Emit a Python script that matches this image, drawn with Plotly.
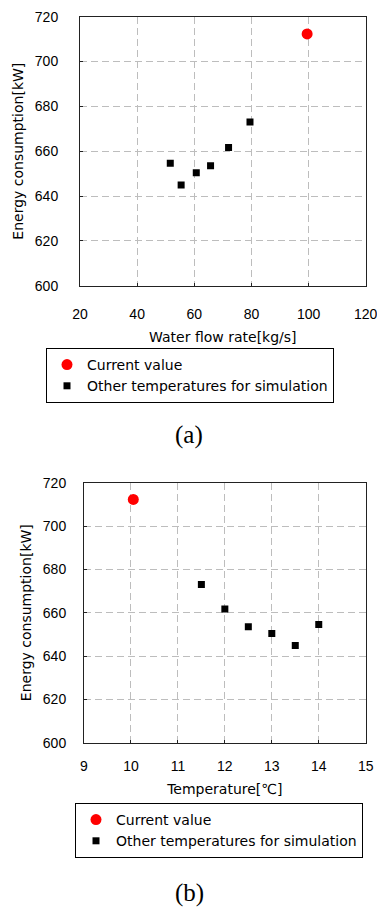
import plotly.graph_objects as go

# ---- data ----
flow_current = [99.5]
energy_current_a = [712.3]
flow_other = [51.6, 55.4, 60.7, 65.7, 72.0, 79.5]
energy_other_a = [654.6, 644.9, 650.4, 653.5, 661.7, 673.0]

temp_current = [10.05]
energy_current_b = [712.3]
temp_other = [11.5, 12.0, 12.5, 13.0, 13.5, 14.0]
energy_other_b = [673.0, 661.7, 653.5, 650.4, 644.9, 654.6]

y_ticks = [600, 620, 640, 660, 680, 700, 720]
x_ticks_a = [20, 40, 60, 80, 100, 120]
x_ticks_b = [9, 10, 11, 12, 13, 14, 15]

W, H = 377, 908
TICKFONT = "Liberation Sans, Arial, sans-serif"
TEXTFONT = "DejaVu Sans, Verdana, sans-serif"
SERIF = "Liberation Serif, Times New Roman, serif"

def px_x(p):
    return p / W

def px_y(p):
    return 1 - p / H

fig = go.Figure()

fig.add_trace(go.Scatter(x=flow_current, y=energy_current_a, mode="markers",
                         name="Current value", legend="legend",
                         marker=dict(color="#ff0000", size=11, symbol="circle"),
                         xaxis="x", yaxis="y"))
fig.add_trace(go.Scatter(x=flow_other, y=energy_other_a, mode="markers",
                         name="Other temperatures for simulation", legend="legend",
                         marker=dict(color="#000000", size=7, symbol="square"),
                         xaxis="x", yaxis="y"))
fig.add_trace(go.Scatter(x=temp_current, y=energy_current_b, mode="markers",
                         name="Current value", legend="legend2",
                         marker=dict(color="#ff0000", size=11, symbol="circle"),
                         xaxis="x2", yaxis="y2"))
fig.add_trace(go.Scatter(x=temp_other, y=energy_other_b, mode="markers",
                         name="Other temperatures for simulation", legend="legend2",
                         marker=dict(color="#000000", size=7, symbol="square"),
                         xaxis="x2", yaxis="y2"))

axis_common = dict(showline=True, mirror=True, linecolor="#222222", linewidth=1,
                   showgrid=True, gridcolor="#bdbdbd", gridwidth=1, griddash="7px,4px",
                   zeroline=False, ticks="inside", ticklen=3, tickcolor="#222222",
                   ticklabeloverflow="allow",
                   tickfont=dict(family=TICKFONT, size=14, color="black"),
                   automargin=False)

title_font = dict(family=TEXTFONT, size=14, color="black")

fig.update_layout(
    width=W, height=H,
    margin=dict(l=0, r=0, t=0, b=0),
    paper_bgcolor="white", plot_bgcolor="white",
    font=dict(family=TEXTFONT, size=14, color="black"),
    xaxis=dict(domain=[px_x(80), px_x(365.7)], range=[20, 120], tickvals=x_ticks_a,
               anchor="y", ticklabelstandoff=15,
               title=dict(text="Water flow rate[kg/s]", standoff=11, font=title_font),
               **axis_common),
    yaxis=dict(domain=[px_y(285.7), px_y(16.7)], range=[600, 720], tickvals=y_ticks,
               anchor="x", ticklabelstandoff=18,
               title=dict(text="Energy consumption[kW]", standoff=7, font=title_font),
               **axis_common),
    xaxis2=dict(domain=[px_x(84), px_x(365.7)], range=[9, 15], tickvals=x_ticks_b,
                anchor="y2", ticklabelstandoff=10,
                title=dict(text="Temperature[℃]", standoff=11, font=title_font),
                **axis_common),
    yaxis2=dict(domain=[px_y(742.7), px_y(482.7)], range=[600, 720], tickvals=y_ticks,
                anchor="x2", ticklabelstandoff=14,
                title=dict(text="Energy consumption[kW]", standoff=7, font=title_font),
                **axis_common),
    legend=dict(x=px_x(46), y=px_y(348), xanchor="left", yanchor="top",
                bordercolor="black", borderwidth=1, bgcolor="white",
                font=dict(family=TEXTFONT, size=14, color="black"), tracegroupgap=0),
    legend2=dict(x=px_x(75), y=px_y(803), xanchor="left", yanchor="top",
                 bordercolor="black", borderwidth=1, bgcolor="white",
                 font=dict(family=TEXTFONT, size=14, color="black"), tracegroupgap=0),
    annotations=[
        dict(text="(a)", x=px_x(189), y=px_y(435), xref="paper", yref="paper",
             xanchor="center", yanchor="middle", showarrow=False,
             font=dict(family=SERIF, size=25, color="black")),
        dict(text="(b)", x=px_x(189), y=px_y(893), xref="paper", yref="paper",
             xanchor="center", yanchor="middle", showarrow=False,
             font=dict(family=SERIF, size=25, color="black")),
    ],
)

fig.write_html("out.html")
